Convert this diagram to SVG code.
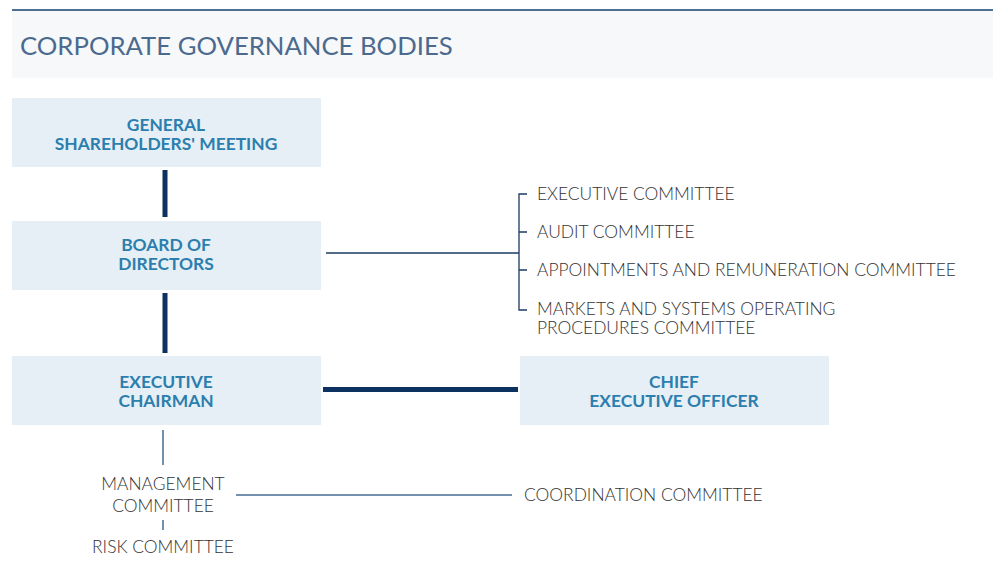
<svg xmlns="http://www.w3.org/2000/svg" width="993" height="563" viewBox="0 0 993 563">
<style>
.box{fill:#e6eff5}
.lbl{font-family:Lato,"Open Sans","Liberation Sans",sans-serif;font-weight:700;font-size:17.4px;fill:#2b7eae;text-anchor:middle}
.txt{font-family:Lato,"Open Sans","Liberation Sans",sans-serif;font-weight:300;font-size:17.4px;fill:#333333}
.thick{stroke:#0d3160;stroke-width:5;fill:none}
.thin{stroke:#1d3a63;stroke-width:1.3;fill:none}
.soft{stroke:#7490ad;stroke-width:2;fill:none}
</style>
<rect width="993" height="563" fill="#ffffff"/>
<g id="header">
<rect x="12" y="10" width="981" height="68" fill="#f6f8fa"/>
<line x1="12" y1="10" x2="993" y2="10" stroke="#4e6f92" stroke-width="2"/>
<text x="20" y="55" font-family="Lato,'Open Sans','Liberation Sans',sans-serif" font-weight="400" font-size="25.7" fill="#4b6a8e">CORPORATE GOVERNANCE BODIES</text>
</g>
<g id="connectors">
<line class="thick" x1="165" y1="170" x2="165" y2="217"/>
<line class="thick" x1="165" y1="293" x2="165" y2="353"/>
<line class="thick" x1="323" y1="389.5" x2="518" y2="389.5"/>
<line class="thin" x1="326" y1="253" x2="519" y2="253"/>
<path class="thin" d="M527 194H519V310H527M519 232H527M519 270H527"/>
<line class="soft" x1="163" y1="430" x2="163" y2="465" stroke-width="1.5"/>
<line class="soft" x1="236" y1="495" x2="512" y2="495"/>
<line class="soft" x1="163" y1="520" x2="163" y2="530" stroke-width="1.5"/>
</g>
<g id="gsm">
<rect class="box" x="12" y="98" width="309" height="69"/>
<text class="lbl" x="166" y="131">GENERAL</text>
<text class="lbl" x="166" y="150">SHAREHOLDERS' MEETING</text>
</g>
<g id="board">
<rect class="box" x="12" y="221" width="309" height="69"/>
<text class="lbl" x="166" y="251">BOARD OF</text>
<text class="lbl" x="166" y="270">DIRECTORS</text>
</g>
<g id="chairman">
<rect class="box" x="12" y="356" width="309" height="69"/>
<text class="lbl" x="166" y="388">EXECUTIVE</text>
<text class="lbl" x="166" y="407">CHAIRMAN</text>
</g>
<g id="ceo">
<rect class="box" x="520" y="356" width="309" height="69"/>
<text class="lbl" x="674" y="388">CHIEF</text>
<text class="lbl" x="674" y="407">EXECUTIVE OFFICER</text>
</g>
<g id="board-committees">
<text class="txt" x="537" y="200">EXECUTIVE COMMITTEE</text>
<text class="txt" x="537" y="238">AUDIT COMMITTEE</text>
<text class="txt" x="537" y="276">APPOINTMENTS AND REMUNERATION COMMITTEE</text>
<text class="txt" x="537" y="315">MARKETS AND SYSTEMS OPERATING</text>
<text class="txt" x="537" y="334">PROCEDURES COMMITTEE</text>
</g>
<g id="management">
<text class="txt" x="163" y="490" text-anchor="middle">MANAGEMENT</text>
<text class="txt" x="163" y="512" text-anchor="middle">COMMITTEE</text>
</g>
<g id="coordination">
<text class="txt" x="524" y="501">COORDINATION COMMITTEE</text>
</g>
<g id="risk">
<text class="txt" x="163" y="553" text-anchor="middle">RISK COMMITTEE</text>
</g>
</svg>
